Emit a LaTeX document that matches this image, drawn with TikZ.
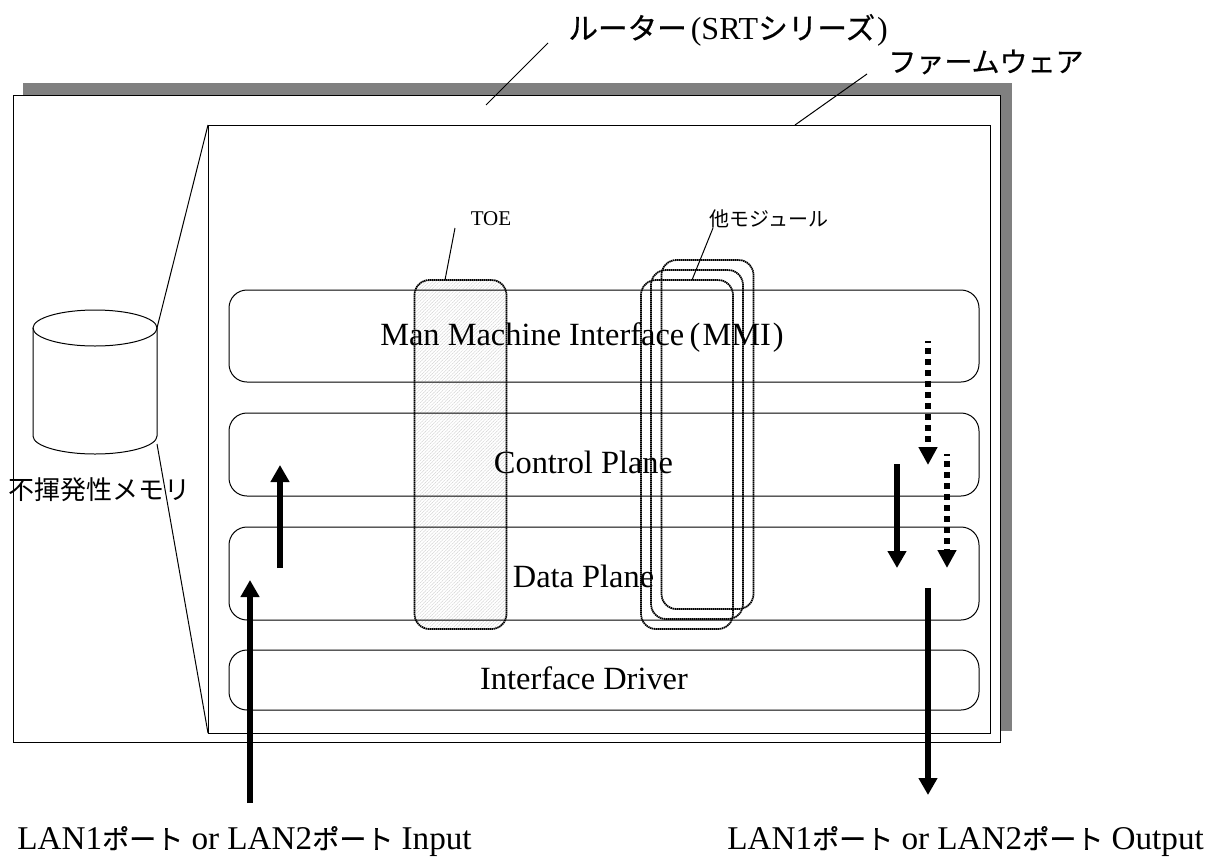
\documentclass[tikz,border=0pt]{standalone}
\usepackage{fontspec}
\setmainfont{Liberation Serif}
\newfontfamily\cjk{Noto Sans CJK JP}
\newfontfamily\cjkheavy[FakeBold=0.5]{Noto Sans CJK JP}
\usepackage{tikz}
\usetikzlibrary{positioning,arrows.meta,shapes.geometric,patterns.meta}
\definecolor{shadowgray}{HTML}{808080}
\newcommand{\jp}[1]{{\cjk #1}}
\newcommand{\jpheavy}[2]{{\fontsize{#1}{16}\cjkheavy #2}}
\tikzset{
  panel/.style={draw=black, line width=0.5pt, inner sep=0pt, outer sep=0pt, fill=white},
  layerbox/.style={draw=black, line width=0.5pt, rounded corners=9pt, minimum width=375pt,
                   inner sep=0pt, outer sep=0pt},
  layertext/.style={font=\fontsize{16.2}{18}\selectfont, inner sep=0pt},
  modulebox/.style={draw=black, line width=0.9pt, dash pattern=on 0.7pt off 0.3pt, rounded corners=7.5pt,
                    minimum width=46pt, minimum height=174.5pt, inner sep=0pt, outer sep=0pt},
  leader/.style={draw=black, line width=0.5pt},
  flowarrow/.style={line width=3.2pt, -{Triangle[length=8.5pt,width=9pt]}},
  dashflow/.style={line width=3pt, dash pattern=on 3pt off 2.5pt, dash phase=2pt, -{Triangle[length=9pt,width=9pt]}},
  bigtext/.style={font=\fontsize{16}{18}\selectfont, inner sep=0pt},
  porttext/.style={font=\fontsize{16.6}{18}\selectfont, inner sep=0pt}
}
\begin{document}
\begin{tikzpicture}[x=0.5pt,y=-0.5pt]
\useasboundingbox (0,0) rectangle (1206,857);
% housing
\node[fill=shadowgray, inner sep=0pt, minimum width=494.5pt, minimum height=324pt] (shadow) at (517.5,407) {};
\node[panel, minimum width=493.5pt, minimum height=323.5pt] (router) at (506.5,418.5) {};
\node[panel, minimum width=391pt, minimum height=304pt] (firmware) at (599,429) {};
% memory
\node[inner sep=0pt, outer sep=0pt, minimum width=62pt, minimum height=54pt] (memory) at (95,382) {};
\node[draw=black, line width=0.5pt, ellipse, inner sep=0pt, outer sep=0pt, minimum width=62pt, minimum height=18pt] (memorytop) at (95,328) {};
\draw[line width=0.5pt] (memory.north west) -- (memory.south west)
  arc[start angle=180, end angle=360, x radius=31pt, y radius=9pt] -- (memory.north east);
\coordinate (memorybase) at (157,444);
\draw[leader] (firmware.north west) -- (memorytop.east);
\draw[leader] (firmware.south west) -- (memorybase);
% modules
\node[modulebox, pattern={Lines[angle=45,distance=1.2pt,line width=0.25pt]}, pattern color=gray!35] (toe) at (460.5,454.5) {};
\node[modulebox] (moduleA) at (687,454.5) {};
\node[modulebox] (moduleB) at (697,444.5) {};
\node[modulebox] (moduleC) at (707.5,434.5) {};
% layers
\node[layerbox, minimum height=46pt] (mmi) at (604,336) {};
\node[layerbox, minimum height=41.5pt] (control) at (604,454.5) {};
\node[layerbox, minimum height=46.5pt] (data) at (604,573.5) {};
\node[layerbox, minimum height=30pt] (driver) at (604,680) {};
\node[layertext] (mmilabel) at (582,338) {Man Machine Interface\,(\kern1ptMMI\kern1pt)};
\node[layertext] (controllabel) at (583.5,462) {Control Plane};
\node[layertext] (datalabel) at (583.5,576) {Data Plane};
\node[layertext] (driverlabel) at (584,678) {Interface Driver};
% labels
\node[bigtext, anchor=west] (routerlabel) at (568,30) {\jpheavy{14.8}{ルーター}\kern2pt(SRT\jpheavy{14.8}{シリーズ}\kern1pt)};
\node[bigtext, anchor=west] (firmwarelabel) at (888,62) {\jpheavy{14}{ファームウェア}};
\node[font=\fontsize{10.5}{12}\selectfont, inner sep=0pt] (toelabel) at (491,219) {TOE};
\node[font=\fontsize{10}{12}\selectfont, inner sep=0pt] (modulelabel) at (769,219) {\jp{他モジュール}};
\node[font=\fontsize{13}{15}\selectfont, inner sep=0pt] (memorylabel) at (100,490) {\jp{不揮発性メモリ}};
\node[porttext, anchor=base west] (inputlabel) at (17,849) {LAN1\jpheavy{13.5}{ポート} or LAN2\jpheavy{13.5}{ポート} Input};
\node[porttext, anchor=base west] (outputlabel) at (727,849) {LAN1\jpheavy{13.5}{ポート} or LAN2\jpheavy{13.5}{ポート} Output};
% leader lines
\coordinate (routerend) at (548,43);
\coordinate (routertip) at (486,105);
\coordinate (firmwareend) at (867,74);
\coordinate (firmwaretip) at (795,125);
\coordinate (toeend) at (455,228);
\coordinate (toetip) at (445,280);
\coordinate (moduleend) at (713,228);
\coordinate (moduletip) at (692,280);
\draw[leader] (routerend) -- (routertip);
\draw[leader] (firmwareend) -- (firmwaretip);
\draw[leader] (toeend) -- (toetip);
\draw[leader] (moduleend) -- (moduletip);
% flows
\coordinate (inA) at (250,803);
\coordinate (inB) at (250,580);
\coordinate (upA) at (280,568);
\coordinate (upB) at (280,465);
\coordinate (dashA) at (928,341);
\coordinate (dashB) at (928,465);
\coordinate (dashC) at (947,454);
\coordinate (dashD) at (947,568);
\coordinate (downA) at (897,464);
\coordinate (downB) at (897,568);
\coordinate (outA) at (928,588);
\coordinate (outB) at (928,795);
\draw[flowarrow] (inA) -- (inB);
\draw[flowarrow] (upA) -- (upB);
\draw[dashflow] (dashA) -- (dashB);
\draw[dashflow] (dashC) -- (dashD);
\draw[flowarrow] (downA) -- (downB);
\draw[flowarrow] (outA) -- (outB);
\end{tikzpicture}
\end{document}
